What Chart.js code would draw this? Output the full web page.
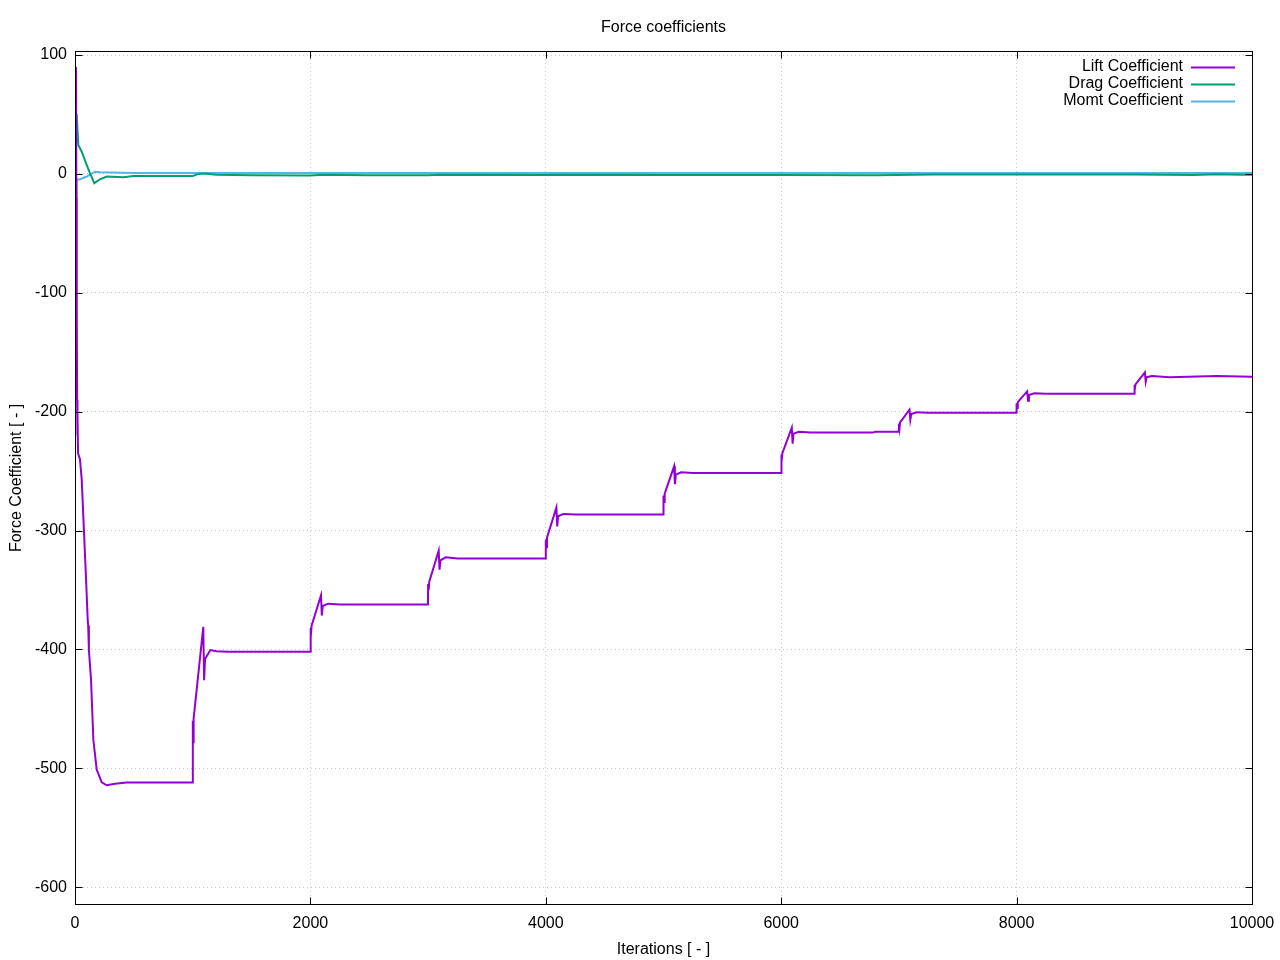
<!DOCTYPE html>
<html>
<head>
<meta charset="utf-8">
<script src="https://cdn.jsdelivr.net/npm/chart.js@4.4.1/dist/chart.umd.min.js"></script>
<style>
  html, body { margin: 0; padding: 0; background: #fff; }
  #wrap { width: 1280px; height: 960px; }
</style>
</head>
<body>
<div id="wrap"><canvas id="my-chart" width="1280" height="960"></canvas></div>
<script>
'use strict';

// ******* DATA ********

let xTicks = [0, 2000, 4000, 6000, 8000, 10000];
let yTicks = [-600, -500, -400, -300, -200, -100, 0, 100];

let liftIter = [8, 12, 14, 16, 18, 20, 22, 26, 42, 57, 94, 108, 112, 118, 122, 136, 156, 184, 227, 269, 340, 440, 600, 990,
  1000, 1001, 1005, 1008, 1090, 1097, 1105, 1150, 1200, 1300, 1999,
  2000, 2005, 2010, 2090, 2097, 2105, 2150, 2250, 2999,
  3000, 3005, 3010, 3090, 3097, 3105, 3150, 3250, 3999,
  4000, 4005, 4010, 4090, 4097, 4105, 4150, 4250, 4999,
  5000, 5005, 5010, 5090, 5097, 5105, 5150, 5250, 5999,
  6000, 6005, 6010, 6090, 6097, 6105, 6150, 6250, 6780, 6800, 6999,
  7000, 7005, 7010, 7090, 7097, 7105, 7150, 7250, 7999,
  8000, 8005, 8010, 8090, 8097, 8105, 8150, 8250, 8999,
  9000, 9005, 9010, 9090, 9097, 9105, 9150, 9300, 9700, 10000];
let liftVal = [90, -20, -190, -115, -190, -220, -200, -235, -240, -257, -341, -375, -380, -400, -406, -425, -476, -501, -511.8, -514.3, -513, -512, -512, -512,
  -512, -460, -478, -458, -381, -426, -408, -400.5, -401.5, -402, -402,
  -382, -390, -380, -354.5, -371.5, -363.5, -361.5, -362.2, -362.2,
  -345, -350, -343, -317, -333, -325, -322.5, -323.5, -323.5,
  -307.5, -314, -306, -280.7, -296.5, -288, -286, -286.6, -286.6,
  -270.6, -276, -269, -246, -261, -253, -251, -251.5, -251.5,
  -236, -242, -235, -213.4, -227, -218.5, -217, -217.6, -217.6, -216.8, -216.8,
  -210, -214, -209, -198.3, -206.7, -202, -200.5, -201, -201,
  -193, -197, -192, -183, -190.8, -186, -184.5, -185, -185,
  -177.3, -182, -177, -167, -174.8, -171, -170, -171, -170, -170.6];

let dragIter = [8, 14, 28, 57, 105, 127, 164, 212, 270, 411, 496, 1000, 1050, 1100, 1200, 1500, 2000, 2100, 2500, 3000, 3100,
  4000, 4100, 5000, 6000, 6800, 7300, 8000, 9000, 9500, 9700, 9900, 10000];
let dragVal = [51, 50, 24.4, 18.7, 6.1, 0.6, -7.8, -4.5, -2.2, -2.8, -1.7, -1.7, 0, 0.3, -0.8, -1.2, -1.3, -0.8, -1.1, -1.1, -0.7,
  -0.9, -0.6, -1.0, -0.9, -1.2, -0.4, -0.5, -0.5, -0.9, -0.3, -0.8, -0.6];

let momtIter = [12, 14, 42, 100, 170, 212, 500, 2000, 5000, 8000, 10000];
let momtVal = [-19, -5, -4.5, -2.2, 1.9, 1.4, 0.8, 0.8, 0.7, 0.7, 0.7];

// ******* HELPERS ********

function toPoints(iters, vals) {
  let pts = [];
  for (let i = 0; i < iters.length; i++) {
    pts.push({ x: iters[i], y: vals[i] });
  }
  return pts;
}

const FONT = 'Liberation Sans, Arial, sans-serif';

// gnuplot-like frame, inward ticks and key inside the plot
const framePlugin = {
  id: 'frame',
  afterDraw(chart) {
    const { ctx, chartArea: a, scales } = chart;
    const L = Math.round(a.left) + 0.5, R = Math.round(a.right) + 0.5;
    const T = Math.round(a.top) + 0.5, B = Math.round(a.bottom) - 0.5;
    const tl = 7;
    ctx.save();
    ctx.strokeStyle = '#000';
    ctx.lineWidth = 1;
    ctx.beginPath();
    xTicks.forEach(v => {
      let px = Math.round(scales.x.getPixelForValue(v)) + 0.5;
      ctx.moveTo(px, B); ctx.lineTo(px, B - tl);
      ctx.moveTo(px, T); ctx.lineTo(px, T + tl);
    });
    yTicks.forEach(v => {
      let py = Math.round(scales.y.getPixelForValue(v)) + 0.5;
      ctx.moveTo(L, py); ctx.lineTo(L + tl, py);
      ctx.moveTo(R, py); ctx.lineTo(R - tl, py);
    });
    ctx.stroke();
    ctx.strokeRect(L, T, R - L, B - T);

    // key
    ctx.font = '16px ' + FONT;
    ctx.textAlign = 'right';
    ctx.textBaseline = 'middle';
    ctx.fillStyle = '#000';
    chart.data.datasets.forEach((ds, i) => {
      let y = 67 + i * 17;
      ctx.fillText(ds.label, 1183, y);
      ctx.strokeStyle = ds.borderColor;
      ctx.lineWidth = 2;
      ctx.beginPath();
      ctx.moveTo(1191, y + 0.5);
      ctx.lineTo(1235, y + 0.5);
      ctx.stroke();
    });
    ctx.restore();
  }
};

// ******* CHART ********

let ctx = document.getElementById('my-chart');

let chartObj = {
  type: 'line',
  data: {
    datasets: [
      { label: 'Lift Coefficient', data: toPoints(liftIter, liftVal), borderColor: '#9400d3', borderWidth: 2, pointRadius: 0, tension: 0 },
      { label: 'Drag Coefficient', data: toPoints(dragIter, dragVal), borderColor: '#009e73', borderWidth: 2, pointRadius: 0, tension: 0 },
      { label: 'Momt Coefficient', data: toPoints(momtIter, momtVal), borderColor: '#56b4e9', borderWidth: 2, pointRadius: 0, tension: 0 }
    ]
  },
  options: {
    responsive: false,
    animation: false,
    layout: { padding: { left: 0, right: 28, top: 0, bottom: 0 } },
    plugins: {
      legend: { display: false },
      tooltip: { enabled: false },
      title: {
        display: true,
        text: 'Force coefficients',
        fullSize: false,
        color: '#000',
        font: { family: FONT, size: 16, weight: 'normal' },
        padding: { top: 18, bottom: 13.8 }
      }
    },
    scales: {
      x: {
        type: 'linear',
        min: 0,
        max: 10000,
        afterBuildTicks: axis => { axis.ticks = xTicks.map(v => ({ value: v })); },
        afterFit: axis => { axis.height = 55; axis.paddingLeft = 0; axis.paddingRight = 0; },
        grid: { color: '#c8c8c8', drawTicks: false },
        border: { display: false, dash: [1, 3] },
        ticks: { color: '#000', padding: 9, maxRotation: 0, font: { family: FONT, size: 16 }, callback: v => String(v) },
        title: { display: true, text: 'Iterations [ - ]', color: '#000', font: { family: FONT, size: 16 }, padding: { top: 0, bottom: 1 } }
      },
      y: {
        type: 'linear',
        min: -615,
        max: 103.4,
        afterBuildTicks: axis => { axis.ticks = yTicks.map(v => ({ value: v })); },
        afterFit: axis => { axis.width = 75; axis.paddingTop = 0; axis.paddingBottom = 0; },
        grid: { color: '#c8c8c8', drawTicks: false },
        border: { display: false, dash: [1, 3] },
        ticks: { color: '#000', padding: 8, font: { family: FONT, size: 16 } },
        title: { display: true, text: 'Force Coefficient [ - ]', color: '#000', font: { family: FONT, size: 16 }, padding: { top: 7, bottom: 0 } }
      }
    }
  },
  plugins: [framePlugin]
};

new Chart(ctx, chartObj); //eslint-disable-line
</script>
</body>
</html>
